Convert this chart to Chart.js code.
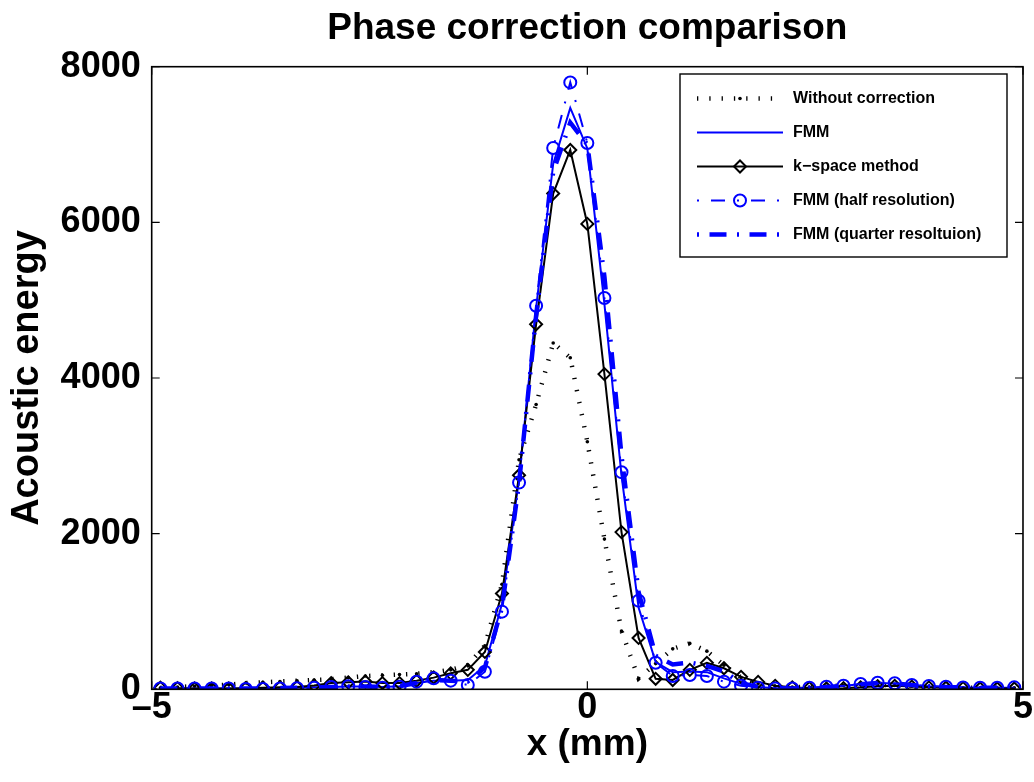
<!DOCTYPE html>
<html>
<head>
<meta charset="utf-8">
<title>Phase correction comparison</title>
<script src="https://cdn.jsdelivr.net/npm/chart.js@4.4.1/dist/chart.umd.min.js"></script>
<style>
  html, body { margin:0; padding:0; background:#fff; }
</style>
</head>
<body>
<canvas id="phaseChart" width="1034" height="782"></canvas>
<script>
// sample positions along the lateral line (mm)
const xPos = [-4.900,-4.704,-4.508,-4.312,-4.116,-3.920,-3.724,-3.528,-3.332,-3.136,
              -2.940,-2.744,-2.548,-2.352,-2.156,-1.960,-1.764,-1.568,-1.372,-1.176,
              -0.980,-0.784,-0.588,-0.392,-0.196, 0.000, 0.196, 0.392, 0.588, 0.784,
               0.980, 1.176, 1.372, 1.568, 1.764, 1.960, 2.156, 2.352, 2.548, 2.744,
               2.940, 3.136, 3.332, 3.528, 3.724, 3.920, 4.116, 4.312, 4.508, 4.704, 4.900];

const noCorr = [20,30,40,50,60,80,90,100,110,120,
                130,150,170,180,190,200,220,250,310,560,
                1350,2950,3660,4450,4260,3180,1930,750,140,330,
                520,590,490,310,150,70,40,30,30,40,
                50,60,60,50,40,30,30,20,20,20,20];

const fmm = [10,10,10,10,10,10,10,15,20,25,
             30,35,35,30,40,80,110,110,120,300,
             1100,2700,4900,6750,7470,6950,4950,2750,1050,350,
             220,230,220,140,70,30,15,10,20,30,
             45,65,80,75,55,40,30,25,20,20,20];

const kSpace = [20,15,10,10,10,15,20,25,30,50,
                80,90,100,80,80,110,150,205,250,480,
                1230,2750,4690,6370,6930,5980,4050,2020,660,135,
                120,250,340,270,160,95,45,25,15,10,
                15,25,40,45,35,25,20,15,10,10,10];

const fmmHalf = [10,10,10,10,10,5,5,10,15,20,
                 30,40,30,20,33,98,141,111,55,226,
                 998,2656,4928,6955,7798,7019,5027,2790,1139,342,
                 171,184,171,98,46,20,10,10,20,33,
                 46,68,85,77,55,42,33,23,20,20,25];

const fmmQuarter = [10,10,10,10,10,10,10,15,20,25,
                    30,35,35,30,40,80,120,110,100,280,
                    1050,2650,4800,6650,7280,7000,5300,3000,1250,430,
                    320,345,300,230,80,30,15,10,20,30,
                    45,65,80,75,55,40,30,25,20,20,20];

const seriesNames = ['Without correction','FMM','k\u2212space method','FMM (half resolution)','FMM (quarter resoltuion)'];
const xTicks = [-5, 0, 5];
const yTicks = [0, 2000, 4000, 6000, 8000];

const FONT = '"Liberation Sans", Arial, Helvetica, sans-serif';
const BLUE = '#0000ff';

function pts(ys) { return xPos.map((x, i) => ({x: x, y: ys[i]})); }

// dataset styles, MATLAB-ish line specs
const datasets = [
  { label: seriesNames[0], data: pts(noCorr), borderColor:'#000', borderWidth:4.5, borderDash:[1.3,11],
    pointStyle:'circle', pointRadius:1.8, pointBorderWidth:0, pointBackgroundColor:'#000', order:4 },
  { label: seriesNames[1], data: pts(fmm), borderColor:BLUE, borderWidth:2, pointRadius:0, order:3 },
  { label: seriesNames[2], data: pts(kSpace), borderColor:'#000', borderWidth:2,
    pointStyle:'rectRot', pointRadius:6, pointBorderWidth:2, pointBorderColor:'#000',
    pointBackgroundColor:'rgba(0,0,0,0)', order:2 },
  { label: seriesNames[3], data: pts(fmmHalf), borderColor:BLUE, borderWidth:2, borderDash:[14,12,2,12],
    pointStyle:'circle', pointRadius:6, pointBorderWidth:2, pointBorderColor:BLUE,
    pointBackgroundColor:'rgba(0,0,0,0)', order:1 },
  { label: seriesNames[4], data: pts(fmmQuarter), borderColor:BLUE, borderWidth:4.5, borderDash:[17,10.5,2,10.5],
    pointRadius:0, order:0 }
];
datasets.forEach(d => { d.fill = false; d.tension = 0; d.pointHoverRadius = d.pointRadius; });

// legend sample dash offsets so every sample starts on a dot
const legendOffsets = [0, 0, 0, 26, 27.5];

// box, inward ticks and the legend
const framePlugin = {
  id: 'frame',
  afterDatasetsDraw(chart) {
    const ctx = chart.ctx, a = chart.chartArea;
    const sx = chart.scales.x, sy = chart.scales.y;
    ctx.save();
    ctx.strokeStyle = '#000';
    ctx.lineWidth = 1.2;
    ctx.beginPath();
    xTicks.forEach(v => {
      const px = sx.getPixelForValue(v);
      ctx.moveTo(px, a.bottom); ctx.lineTo(px, a.bottom - 8);
      ctx.moveTo(px, a.top); ctx.lineTo(px, a.top + 8);
    });
    yTicks.forEach(v => {
      const py = sy.getPixelForValue(v);
      ctx.moveTo(a.left, py); ctx.lineTo(a.left + 8, py);
      ctx.moveTo(a.right, py); ctx.lineTo(a.right - 8, py);
    });
    ctx.stroke();
    ctx.lineWidth = 1.6;
    ctx.strokeRect(a.left, a.top, a.right - a.left, a.bottom - a.top);
    ctx.restore();
  },
  afterDraw(chart) {
    const ctx = chart.ctx;
    const bx = 680, by = 74, bw = 327, bh = 183;
    ctx.save();
    ctx.fillStyle = '#fff';
    ctx.fillRect(bx, by, bw, bh);
    ctx.strokeStyle = '#000';
    ctx.lineWidth = 1.4;
    ctx.strokeRect(bx, by, bw, bh);

    chart.data.datasets.forEach((ds, i) => {
      const y = 98.5 + i * 34;
      const x0 = 697, x1 = 783, xm = 740;
      ctx.save();
      ctx.strokeStyle = ds.borderColor;
      ctx.lineWidth = ds.borderWidth;
      ctx.lineCap = 'butt';
      ctx.setLineDash(ds.borderDash || []);
      ctx.lineDashOffset = legendOffsets[i];
      ctx.beginPath();
      ctx.moveTo(x0, y); ctx.lineTo(x1, y);
      ctx.stroke();
      ctx.setLineDash([]);
      if (ds.pointRadius > 0) {
        ctx.fillStyle = ds.pointBackgroundColor;
        ctx.strokeStyle = ds.pointBorderColor || ds.borderColor;
        ctx.lineWidth = ds.pointBorderWidth;
        Chart.helpers.drawPoint(ctx, {
          pointStyle: ds.pointStyle, radius: ds.pointRadius,
          borderWidth: ds.pointBorderWidth, rotation: 0
        }, xm, y);
      }
      ctx.restore();
      ctx.fillStyle = '#000';
      ctx.font = 'bold 16px ' + FONT;
      ctx.textAlign = 'left';
      ctx.textBaseline = 'middle';
      ctx.fillText(ds.label, 793, y);
    });
    ctx.restore();
  }
};

new Chart(document.getElementById('phaseChart'), {
  type: 'line',
  data: { datasets },
  options: {
    responsive: false,
    animation: false,
    devicePixelRatio: 1,
    layout: { padding: { top: 0, right: 11, bottom: 0, left: 0 } },
    plugins: {
      legend: { display: false },
      tooltip: { enabled: false },
      title: {
        display: true,
        fullSize: false,
        text: 'Phase correction comparison',
        color: '#000',
        font: { family: FONT, size: 37, weight: 'bold', lineHeight: 1.2 },
        padding: { top: 7, bottom: 15.3 }
      }
    },
    scales: {
      x: {
        type: 'linear', min: -5, max: 5,
        grid: { display: false, drawTicks: false },
        border: { display: false },
        ticks: {
          stepSize: 5, maxRotation: 0, padding: 1, color: '#000',
          font: { family: FONT, size: 36, weight: 'bold', lineHeight: 1 },
          callback: v => (v < 0 ? '\u2013' + Math.abs(v) : String(v))
        },
        title: {
          display: true, text: 'x (mm)', color: '#000',
          font: { family: FONT, size: 37, weight: 'bold', lineHeight: 1.2 },
          padding: { top: 0, bottom: 15 }
        },
        afterFit: s => { s.height = 92.7; }
      },
      y: {
        min: 0, max: 8000,
        grid: { display: false, drawTicks: false },
        border: { display: false },
        ticks: {
          stepSize: 2000, padding: 11, color: '#000',
          font: { family: FONT, size: 36, weight: 'bold', lineHeight: 1 },
          callback: v => String(v)
        },
        title: {
          display: true, text: 'Acoustic energy', color: '#000',
          font: { family: FONT, size: 38, weight: 'bold', lineHeight: 1.2 },
          padding: { top: 5, bottom: 0 }
        },
        afterFit: s => { s.width = 151.7; }
      }
    }
  },
  plugins: [framePlugin]
});
</script>
</body>
</html>
